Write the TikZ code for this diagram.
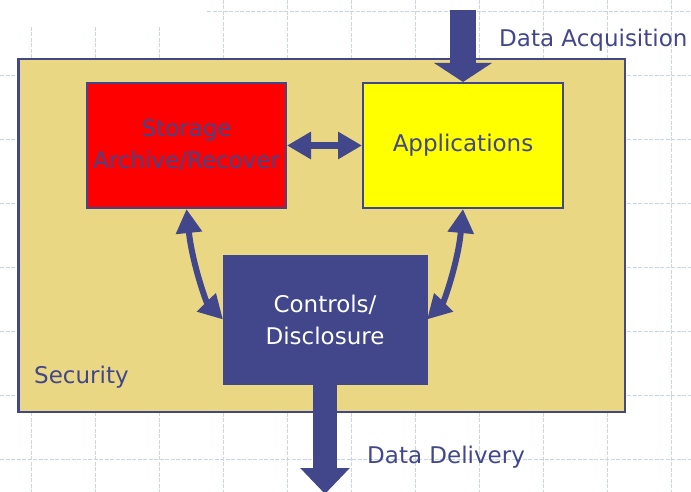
\documentclass[tikz,border=0pt]{standalone}
\usepackage{fontspec}
\newfontfamily\tah{DejaVu Sans}
\usetikzlibrary{arrows.meta}
\definecolor{navy}{RGB}{66,70,138}
\definecolor{khaki}{RGB}{234,215,132}
\definecolor{gridc}{RGB}{198,212,252}
\tikzset{
  gridline/.style={draw=gridc, line width=0.7pt, dash pattern=on 4pt off 1.5pt},
  box/.style={draw=navy, line width=2pt, inner sep=0pt, font=\tah\fontsize{23}{32}\selectfont, align=center},
  lbl/.style={inner sep=0pt, anchor=base west, text=navy, font=\tah\fontsize{23}{28}\selectfont},
  bigarrow/.style={draw=navy, line width=26pt, -{Triangle[width=57pt,length=19pt]}},
  bigarrowb/.style={draw=navy, line width=24pt, -{Triangle[width=48pt,length=26pt]}},
  dblarrow/.style={draw=navy, line width=7pt, {Triangle[width=26pt,length=24pt]}-{Triangle[width=26pt,length=24pt]}},
  curvarrow/.style={draw=navy, line width=6pt, {Triangle[width=25pt,length=24pt]}-{Triangle[width=25pt,length=24pt]}}
}
\begin{document}
\begin{tikzpicture}[x=1pt,y=-1pt]
\useasboundingbox (0,0) rectangle (691,492);
% background grid
\foreach \x in {31,95,159} \draw[gridline] (\x,27) -- (\x,492);
\foreach \x in {223,287,...,671} \draw[gridline] (\x,0) -- (\x,492);
\draw[gridline] (207,11) -- (691,11);
\foreach \y in {75,139,...,459} \draw[gridline] (0,\y) -- (691,\y);
% security frame
\node[draw=navy, fill=khaki, line width=2.5pt, minimum width=606.5pt, minimum height=352.5pt, inner sep=0pt] (sec) at (321.5,235.5) {};
\node[lbl] (seclbl) at (34,383) {Security};
% boxes
\node[box, fill=red, text=navy, minimum width=199pt, minimum height=125pt] (stor) at (186.5,145.5) {Storage\\Archive/Recover};
\node[box, fill={rgb,255:red,255;green,255;blue,0}, text=navy, minimum width=200pt, minimum height=125pt] (app) at (463,145.5) {Applications};
\node[box, draw=navy, fill=navy, text=white, line width=0.5pt, minimum width=203.5pt, minimum height=128.5pt] (ctrl) at (325,319.5) {Controls/\\Disclosure};
% external labels
\node[lbl] (acqlbl) at (499,47) {Data Acquisition};
\node[lbl] (dellbl) at (367,463) {Data Delivery};
% arrows
\coordinate (acqtop) at (463,10);
\coordinate (deltip) at (325,494);
\draw[bigarrow] (acqtop) -- (app.north);
\draw[bigarrowb] (ctrl.center |- 0,383) -- (deltip);
\draw[dblarrow] (stor.east) -- (app.west);
\draw[curvarrow] (stor.south) .. controls (192,262) and (206,302) .. (ctrl.west);
\draw[curvarrow] (app.south) .. controls (458,262) and (444,302) .. (ctrl.east);
\end{tikzpicture}
\end{document}
